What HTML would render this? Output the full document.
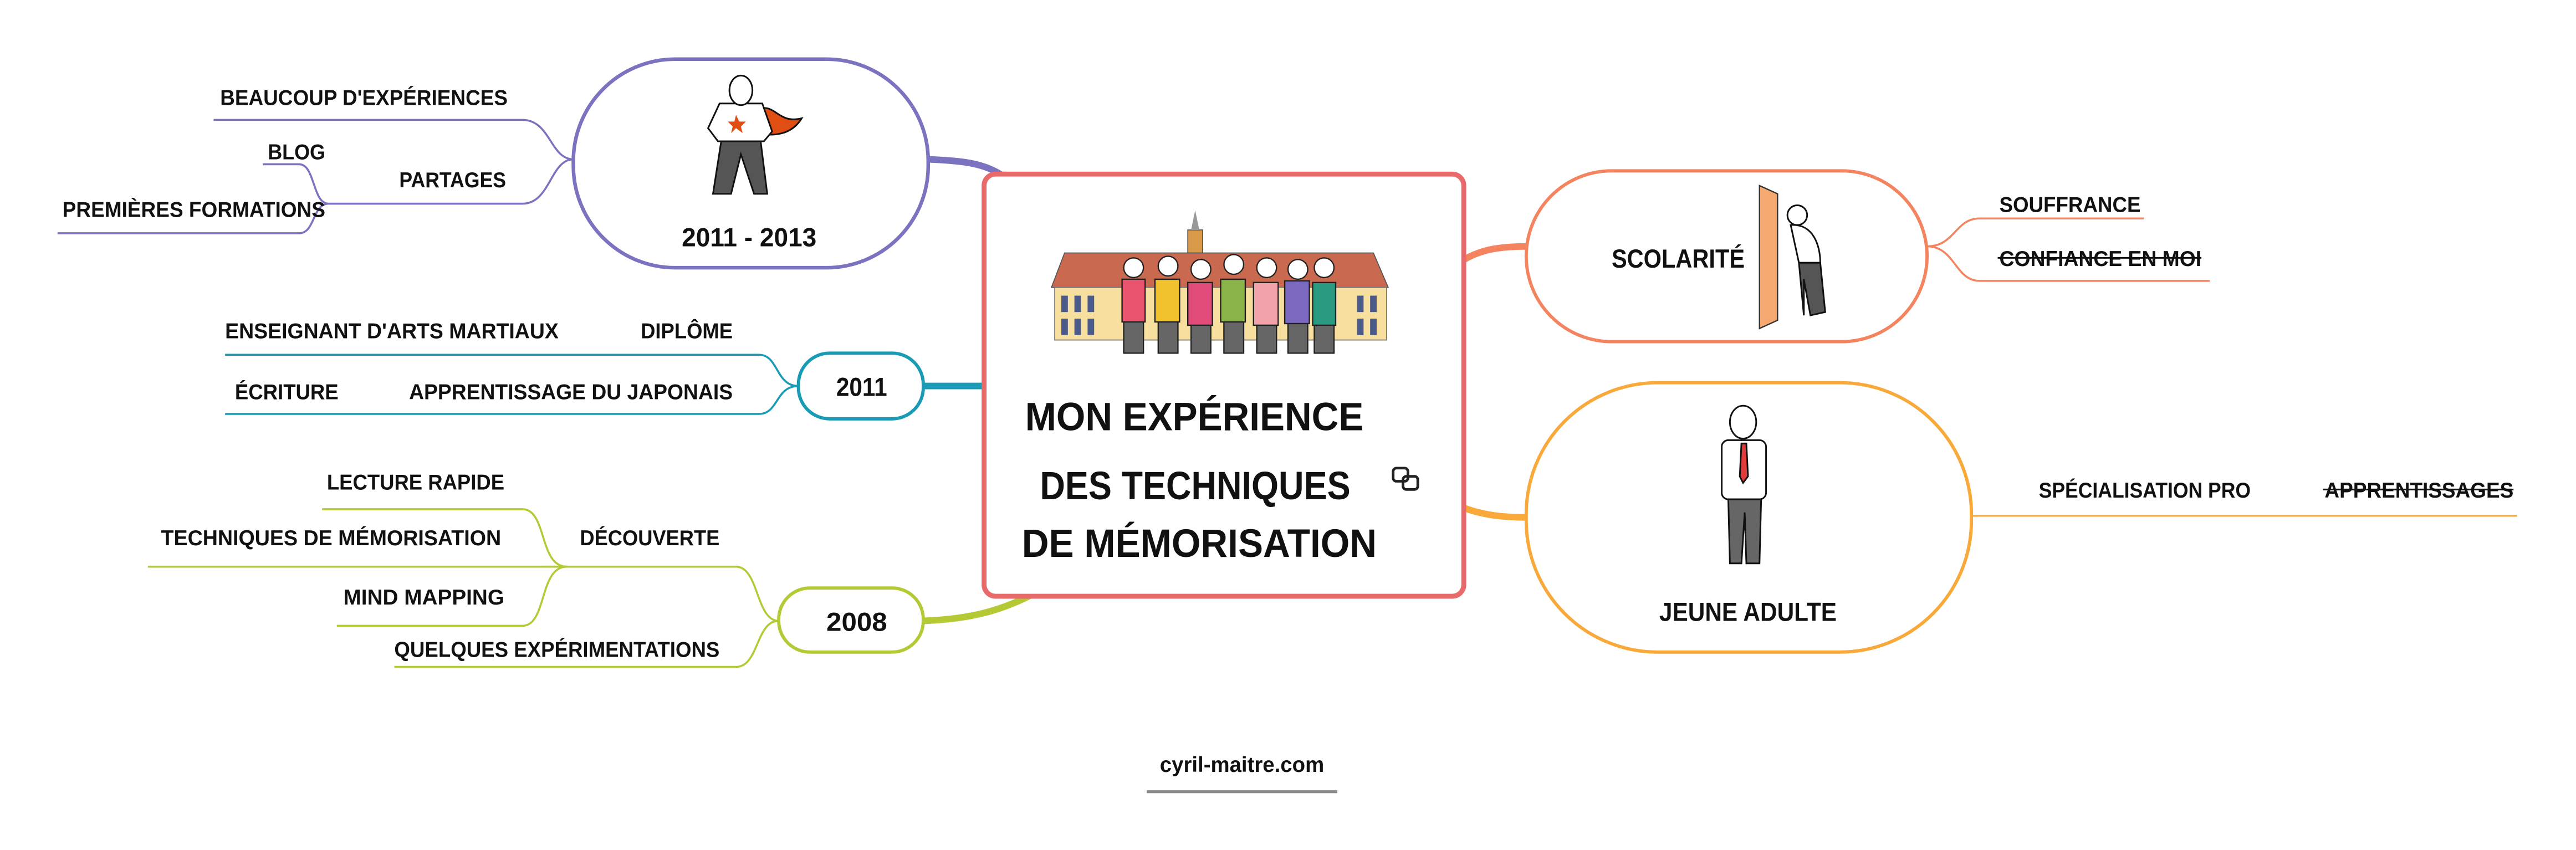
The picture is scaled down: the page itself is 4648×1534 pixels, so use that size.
<!DOCTYPE html>
<html><head><meta charset="utf-8"><style>
html,body{margin:0;padding:0;background:#fff;width:4648px;height:1534px;overflow:hidden}
svg{display:block}
text{font-family:"Liberation Sans Narrow","Liberation Sans",sans-serif;font-weight:bold;fill:#111}
.s{font-size:13px}
.n{font-size:16px}
</style></head><body>
<svg width="4648" height="1534" viewBox="0 0 1568 517.5" xmlns="http://www.w3.org/2000/svg">
<!-- main connectors -->
<path d="M565 97 C590 98 600 100 612 108" stroke="#7b72c0" stroke-width="4" fill="none"/>
<path d="M562 235 L600 235" stroke="#1a9bb5" stroke-width="4" fill="none"/>
<path d="M562 378 C590 377 610 372 632 360" stroke="#b5c935" stroke-width="4" fill="none"/>
<path d="M888 160 C900 152 912 150 930 150" stroke="#f4845f" stroke-width="4" fill="none"/>
<path d="M888 308 C900 313 912 315 930 315" stroke="#f9a93a" stroke-width="4" fill="none"/>

<!-- central box -->
<rect x="599" y="106" width="292" height="257" rx="7" fill="#fff" stroke="#e86a6a" stroke-width="3"/>
<g>
<rect x="723" y="140" width="9" height="20" fill="#d99a4a" stroke="#555" stroke-width="0.6"/>
<path d="M727.5 128 L730 140 L725 140 Z" fill="#999"/>
<path d="M640 175 L648 154 L836 154 L845 175 Z" fill="#c96a50" stroke="#555" stroke-width="0.6"/>
<rect x="642" y="175" width="202" height="32" fill="#f7dfa0" stroke="#777" stroke-width="0.6"/>
<g fill="#4a5a8a">
<rect x="646" y="180" width="4" height="10"/><rect x="654" y="180" width="4" height="10"/><rect x="662" y="180" width="4" height="10"/>
<rect x="646" y="194" width="4" height="10"/><rect x="654" y="194" width="4" height="10"/><rect x="662" y="194" width="4" height="10"/>
<rect x="826" y="180" width="4" height="10"/><rect x="834" y="180" width="4" height="10"/>
<rect x="826" y="194" width="4" height="10"/><rect x="834" y="194" width="4" height="10"/>
</g>
<g stroke="#222" stroke-width="0.8">
<g fill="#666"><rect x="684" y="195" width="12" height="20"/><rect x="705" y="195" width="12" height="20"/><rect x="725" y="195" width="12" height="20"/><rect x="745" y="195" width="12" height="20"/><rect x="765" y="195" width="12" height="20"/><rect x="784" y="195" width="12" height="20"/><rect x="800" y="195" width="12" height="20"/></g>
<g fill="#fff"><circle cx="690" cy="163" r="6"/><circle cx="711" cy="162" r="6"/><circle cx="731" cy="164" r="6"/><circle cx="751" cy="161" r="6"/><circle cx="771" cy="163" r="6"/><circle cx="790" cy="164" r="6"/><circle cx="806" cy="163" r="6"/></g>
<rect x="683" y="170" width="14" height="26" fill="#e9546f"/>
<rect x="703" y="170" width="15" height="26" fill="#f2c12e"/>
<rect x="723" y="172" width="15" height="26" fill="#e04b7a"/>
<rect x="743" y="170" width="15" height="26" fill="#8ab34a"/>
<rect x="763" y="172" width="15" height="26" fill="#f2a2ab"/>
<rect x="782" y="171" width="15" height="26" fill="#7c6ac0"/>
<rect x="799" y="172" width="14" height="26" fill="#2a9a80"/>
</g>
</g>
<text x="624" y="262" textLength="206" lengthAdjust="spacingAndGlyphs" style="font-size:24px">MON EXPÉRIENCE</text>
<text x="633" y="304" textLength="189" lengthAdjust="spacingAndGlyphs" style="font-size:24px">DES TECHNIQUES</text>
<text x="622" y="339" textLength="216" lengthAdjust="spacingAndGlyphs" style="font-size:24px">DE MÉMORISATION</text>
<g fill="none" stroke="#222" stroke-width="1.6">
<rect x="848" y="285" width="9" height="8" rx="2"/><rect x="854" y="290" width="9" height="8" rx="2"/>
</g>

<!-- 2011-2013 node -->
<rect x="349" y="36" width="216" height="127" rx="62" fill="#fff" stroke="#7b72c0" stroke-width="2.2"/>
<g stroke="#111" stroke-width="1">
<path d="M458 68 C472 60 472 76 488 72 C482 82 470 84 460 80 Z" fill="#e04e14"/>
<path d="M438 63 L464 63 L470 80 L465 86 L437 86 L431 78 Z" fill="#fff"/>
<path d="M448 70 L450 74 L454 74 L451 77 L452 81 L448 78 L445 81 L446 77 L443 74 L447 74 Z" fill="#e04e14" stroke="none"/>
<path d="M439 86 L463 86 L467 118 L459 118 L451 94 L445 118 L434 118 Z" fill="#555"/>
<ellipse cx="451" cy="55" rx="7" ry="9" fill="#fff"/>
</g>
<text x="415" y="150" textLength="82" lengthAdjust="spacingAndGlyphs" class="n">2011 - 2013</text>

<g fill="none" stroke="#7b72c0" stroke-width="1.2">
<path d="M349 97 C335 97 335 73 318 73 L130 73"/>
<path d="M349 97 C335 97 335 124 318 124 L200 124"/>
<path d="M200 124 C190 124 192 100 182 100 L160 100"/>
<path d="M200 124 C190 124 192 142 182 142 L35 142"/>
</g>
<text x="134" y="64" textLength="175" lengthAdjust="spacingAndGlyphs" class="s">BEAUCOUP D'EXPÉRIENCES</text>
<text x="243" y="114" textLength="65" lengthAdjust="spacingAndGlyphs" class="s">PARTAGES</text>
<text x="163" y="97" textLength="35" lengthAdjust="spacingAndGlyphs" class="s">BLOG</text>
<text x="38" y="132" textLength="160" lengthAdjust="spacingAndGlyphs" class="s">PREMIÈRES FORMATIONS</text>

<!-- 2011 node -->
<rect x="486" y="215" width="76" height="40" rx="19" fill="#fff" stroke="#1a9bb5" stroke-width="2"/>
<text x="509" y="241" textLength="31" lengthAdjust="spacingAndGlyphs" class="n">2011</text>
<g fill="none" stroke="#1a9bb5" stroke-width="1.2">
<path d="M486 235 C472 235 474 216 462 216 L137 216"/>
<path d="M486 235 C472 235 474 252 462 252 L137 252"/>
</g>
<text x="137" y="206" textLength="203" lengthAdjust="spacingAndGlyphs" class="s">ENSEIGNANT D'ARTS MARTIAUX</text>
<text x="390" y="206" textLength="56" lengthAdjust="spacingAndGlyphs" class="s">DIPLÔME</text>
<text x="143" y="243" textLength="63" lengthAdjust="spacingAndGlyphs" class="s">ÉCRITURE</text>
<text x="249" y="243" textLength="197" lengthAdjust="spacingAndGlyphs" class="s">APPRENTISSAGE DU JAPONAIS</text>

<!-- 2008 node -->
<rect x="474" y="358" width="88" height="39" rx="19" fill="#fff" stroke="#b5c935" stroke-width="2"/>
<text x="503" y="384" textLength="37" lengthAdjust="spacingAndGlyphs" class="n">2008</text>
<g fill="none" stroke="#b5c935" stroke-width="1.2">
<path d="M474 378 C460 378 462 345 448 345 L330 345"/>
<path d="M474 378 C460 378 462 406 448 406 L240 406"/>
<path d="M345 345 C328 345 333 310 318 310 L196 310"/>
<path d="M345 345 L90 345"/>
<path d="M345 345 C328 345 333 381 318 381 L205 381"/>
</g>
<text x="353" y="332" textLength="85" lengthAdjust="spacingAndGlyphs" class="s">DÉCOUVERTE</text>
<text x="240" y="400" textLength="198" lengthAdjust="spacingAndGlyphs" class="s">QUELQUES EXPÉRIMENTATIONS</text>
<text x="199" y="298" textLength="108" lengthAdjust="spacingAndGlyphs" class="s">LECTURE RAPIDE</text>
<text x="98" y="332" textLength="207" lengthAdjust="spacingAndGlyphs" class="s">TECHNIQUES DE MÉMORISATION</text>
<text x="209" y="368" textLength="98" lengthAdjust="spacingAndGlyphs" class="s">MIND MAPPING</text>

<!-- SCOLARITE -->
<rect x="929" y="104" width="244" height="104" rx="52" fill="#fff" stroke="#f4845f" stroke-width="2"/>
<text x="981" y="163" textLength="81" lengthAdjust="spacingAndGlyphs" class="n">SCOLARITÉ</text>
<path d="M1071 113 L1082 118 L1082 195 L1071 200 Z" fill="#f5a870" stroke="#333" stroke-width="0.8"/>
<g stroke="#111" stroke-width="1">
<circle cx="1094" cy="131" r="6" fill="#fff"/>
<path d="M1090 137 C1104 136 1108 150 1108 160 L1095 160 Z" fill="#fff"/>
<path d="M1095 160 L1108 160 L1111 190 L1102 192 L1098 170 L1098 192 Z" fill="#555"/>
</g>
<g fill="none" stroke="#f4845f" stroke-width="1.2">
<path d="M1173 150 C1190 150 1190 133 1205 133 L1305 133"/>
<path d="M1173 150 C1190 150 1190 171 1205 171 L1345 171"/>
</g>
<text x="1217" y="129" textLength="86" lengthAdjust="spacingAndGlyphs" class="s">SOUFFRANCE</text>
<text x="1217" y="162" textLength="123" lengthAdjust="spacingAndGlyphs" class="s">CONFIANCE EN MOI</text>
<line x1="1216" y1="157" x2="1340" y2="157" stroke="#111" stroke-width="1"/>

<!-- JEUNE ADULTE -->
<rect x="929" y="233" width="271" height="164" rx="80" fill="#fff" stroke="#f9a93a" stroke-width="2"/>
<g stroke="#111" stroke-width="1">
<ellipse cx="1061" cy="257" rx="8" ry="10" fill="#fff"/>
<rect x="1048" y="268" width="27" height="36" rx="4" fill="#fff"/>
<path d="M1060 270 L1063 270 L1064 290 L1061 294 L1059 290 Z" fill="#e03c3c"/>
<path d="M1052 304 L1072 304 L1071 343 L1063 343 L1062 312 L1060 343 L1053 343 Z" fill="#666"/>
</g>
<text x="1010" y="378" textLength="108" lengthAdjust="spacingAndGlyphs" class="n">JEUNE ADULTE</text>
<path d="M1200 314 L1532 314" stroke="#f9a93a" stroke-width="1.2" fill="none"/>
<text x="1241" y="303" textLength="129" lengthAdjust="spacingAndGlyphs" class="s">SPÉCIALISATION PRO</text>
<text x="1415" y="303" textLength="115" lengthAdjust="spacingAndGlyphs" class="s">APPRENTISSAGES</text>
<line x1="1414" y1="298" x2="1530" y2="298" stroke="#111" stroke-width="1"/>

<!-- footer -->
<text x="706" y="470" textLength="100" lengthAdjust="spacingAndGlyphs" style="font-size:13px">cyril-maitre.com</text>
<line x1="698" y1="482" x2="814" y2="482" stroke="#888" stroke-width="1.8"/>
</svg>
</body></html>
